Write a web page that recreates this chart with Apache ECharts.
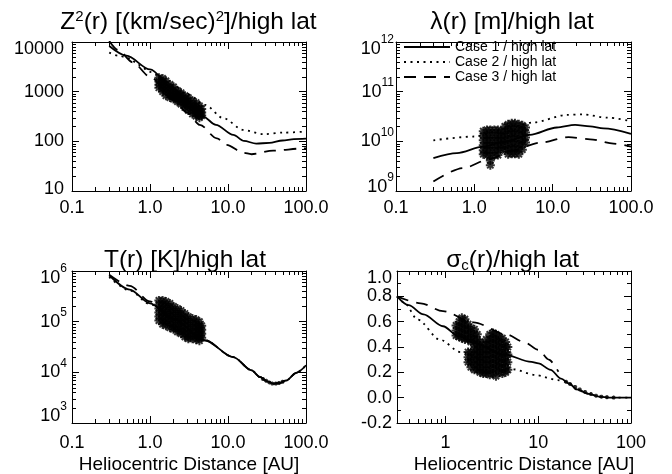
<!DOCTYPE html>
<html><head><meta charset="utf-8">
<script src="https://cdn.jsdelivr.net/npm/echarts@6/dist/echarts.min.js"></script>
<style>html,body{margin:0;padding:0;background:#fff}#c{width:672px;height:474px}</style>
</head><body><div id="c"></div>
<script>
// ---------------- data ----------------
const caseNames = ['Case 1 / high lat', 'Case 2 / high lat', 'Case 3 / high lat'];

// Panel 1: Z^2(r)
const z2Case1 = [[0.3,8300],[0.5,5300],[1.0,2800],[2.0,1150],[3.0,640],[4.8,314],[7,215],[11.7,135],[16,102],[23,90],[34,93],[50,104],[70,111],[100,113]];
const z2Case2 = [[0.3,6100],[0.39,5300],[0.55,4700],[0.71,3450],[1.0,2500],[2.0,1330],[3.0,890],[5.1,540],[8.7,292],[15.7,170],[28.5,139],[51.5,150],[100,157]];
const z2Case3 = [[0.3,10500],[0.39,6900],[0.6,3900],[1.0,2000],[2.0,690],[3.0,380],[4.36,214],[7.2,115],[9.6,85],[15.7,59],[20,55],[38,65],[92,72],[100,72]];
const z2ObsX = [1.3,1.45,1.6,1.8,2.0,2.25,2.5,2.8,3.1,3.5,3.9,4.3,4.6];
const z2ObsY = [
  [1900,1600,1380,1200],
  [1850,1580,1350,1150,1000],
  [1650,1400,1180,1000,830],
  [1400,1200,1020,870,760],
  [1250,1070,910,800,710],
  [1050,900,790,700,630],
  [950,830,720,630,560],
  [830,720,630,550,480],
  [760,660,560,480,420],
  [660,560,480,410,355],
  [600,510,440,370,320],
  [520,450,380,330,300],
  [450,380,330]
];

// Panel 2: lambda(r)
const lamCase1 = [[0.3,4.6e9],[0.6,5.8e9],[1.3,7.8e9],[2.5,1.0e10],[5.1,1.35e10],[11.3,1.9e10],[19.3,2.15e10],[30,2.0e10],[44.5,1.82e10],[100,1.42e10]];
const lamCase2 = [[0.3,1.05e10],[1.0,1.25e10],[2.5,1.77e10],[5.7,2.4e10],[15,3.4e10],[24,3.5e10],[50,3.0e10],[100,2.55e10]];
const lamCase3 = [[0.3,1.55e9],[0.72,2.9e9],[1.58,4.4e9],[3,6.5e9],[6.9,9.4e9],[15.9,1.22e10],[30,1.1e10],[60,9e9],[100,7.8e9]];
const lamObsX = [1.3,1.45,1.6,1.8,2.0,2.2,2.45,2.7,3.0,3.3,3.7,4.1,4.5];
const lamObsY = [
  [1.6e10,1.3e10,1.05e10,8.3e9,6.6e9,5.5e9],
  [1.7e10,1.32e10,1.05e10,8.3e9,6.6e9,5.2e9],
  [1.7e10,1.32e10,1.05e10,8.3e9,6.6e9,5.2e9,4.1e9,3.3e9],
  [1.7e10,1.32e10,1.05e10,8.3e9,6.6e9,5.2e9],
  [1.7e10,1.32e10,1.05e10,8.3e9,6.6e9,5.3e9],
  [1.6e10,1.3e10,1.05e10,8.5e9,7e9],
  [2.0e10,1.6e10,1.3e10,1.05e10,8.3e9,6.6e9],
  [2.2e10,1.75e10,1.4e10,1.1e10,8.7e9,6.9e9,5.5e9],
  [2.3e10,1.8e10,1.45e10,1.15e10,9e9,7.2e9,5.6e9],
  [2.3e10,1.8e10,1.45e10,1.15e10,9e9,7.2e9,5.6e9],
  [2.2e10,1.75e10,1.4e10,1.1e10,8.7e9,6.9e9,5.5e9],
  [2.1e10,1.7e10,1.35e10,1.05e10,8.5e9,6.8e9],
  [1.9e10,1.5e10,1.2e10,9.5e9]
];

// Panel 3: T(r)
const tCase1 = [[0.3,8.2e5],[0.55,4.3e5],[1.0,2.3e5],[2.0,1.12e5],[5,4.3e4],[11.7,2.0e4],[20,1.1e4],[25.6,8.1e3],[32,6.6e3],[38,6.0e3],[45,6.1e3],[56,6.9e3],[75,9.8e3],[100,1.38e4]];
const tCase2 = [[0.3,7.6e5],[0.55,4.1e5],[1.0,2.2e5],[2.0,1.1e5],[5,4.3e4],[11.7,2.0e4],[20,1.1e4],[25.6,8.1e3],[32,6.6e3],[38,6.0e3],[45,6.1e3],[56,6.9e3],[75,9.8e3],[100,1.38e4]];
const tCase3 = [[0.3,8.4e5],[0.55,5.1e5],[1.0,2.5e5],[2.0,1.16e5],[4,5.4e4],[5,4.35e4],[11.7,2.0e4],[20,1.1e4],[25.6,8.1e3],[32,6.6e3],[38,6.0e3],[45,6.1e3],[56,6.9e3],[75,9.8e3],[100,1.38e4]];
const tObsX = [1.3,1.45,1.6,1.8,2.0,2.25,2.5,2.8,3.1,3.5,3.9,4.3,4.6];
const tObsY = [
  [2.63e5,2.19e5,1.82e5,1.51e5,1.26e5,1.05e5],
  [2.63e5,2.19e5,1.82e5,1.51e5,1.26e5,1.05e5,8.9e4],
  [2.51e5,2.09e5,1.74e5,1.45e5,1.2e5,1.0e5,8.3e4],
  [2.29e5,1.91e5,1.58e5,1.32e5,1.1e5,9.1e4,7.6e4],
  [2.0e5,1.66e5,1.38e5,1.15e5,9.5e4,7.9e4,7.1e4],
  [1.82e5,1.51e5,1.26e5,1.05e5,8.7e4,7.2e4,6.3e4],
  [1.66e5,1.38e5,1.15e5,9.5e4,7.9e4,6.6e4,5.8e4],
  [1.45e5,1.2e5,1.0e5,8.3e4,6.9e4,5.8e4,5.0e4],
  [1.26e5,1.05e5,8.7e4,7.2e4,6.0e4,5.0e4,4.6e4],
  [1.15e5,9.5e4,7.9e4,6.6e4,5.5e4,4.6e4],
  [1.1e5,9.1e4,7.6e4,6.3e4,5.2e4,4.4e4],
  [1.0e5,8.3e4,6.9e4,5.8e4,4.8e4,4.2e4],
  [8.3e4,6.9e4,5.8e4,4.8e4]
];
const tObsTail = [[28,7400],[31,6800],[34,6300],[37,6000],[41,6000],[45,6150],[50,6500]];

// Panel 4: sigma_c(r)
const sigCase1 = [[0.3,0.80],[0.4,0.73],[0.58,0.657],[0.94,0.564],[1.39,0.484],[2.04,0.43],[4.15,0.344],[8.46,0.282],[10.06,0.27],[13.6,0.22],[17.6,0.15],[21.8,0.11],[26,0.065],[35,0.03],[45,0.008],[60,0.0],[100,0.0]];
const sigCase2 = [[0.3,0.80],[0.36,0.75],[0.5,0.617],[0.87,0.458],[1.45,0.36],[3.0,0.284],[5.35,0.224],[9.3,0.179],[16.2,0.139],[19.8,0.125],[21.8,0.11],[26,0.065],[35,0.03],[45,0.008],[60,0.0],[100,0.0]];
const sigCase3 = [[0.3,0.80],[0.54,0.745],[0.94,0.683],[2.0,0.595],[4.57,0.498],[7.0,0.44],[10.06,0.378],[13,0.30],[16.5,0.205]];
const sigObsX = [1.3,1.4,1.5,1.62,1.75,1.88,2.05,2.2,2.35,2.55,2.75,3.0,3.25,3.5,3.8,4.1,4.45,4.7];
const sigObsY = [
  [0.57,0.53,0.49],
  [0.60,0.56,0.52,0.48],
  [0.63,0.59,0.55,0.51,0.47],
  [0.62,0.58,0.54,0.50,0.46],
  [0.58,0.54,0.50,0.46,0.36,0.32,0.28],
  [0.55,0.51,0.47,0.44,0.36,0.32,0.28,0.24],
  [0.54,0.50,0.46,0.42,0.38,0.34,0.30,0.26,0.22],
  [0.50,0.46,0.42,0.38,0.34,0.30,0.26,0.22],
  [0.44,0.40,0.36,0.32,0.28,0.24,0.20],
  [0.42,0.38,0.34,0.30,0.26,0.22,0.19],
  [0.46,0.42,0.38,0.34,0.30,0.26,0.22,0.19],
  [0.50,0.46,0.42,0.38,0.34,0.30,0.26,0.22,0.18],
  [0.51,0.47,0.43,0.39,0.35,0.31,0.27,0.23,0.19],
  [0.50,0.46,0.42,0.38,0.34,0.30,0.26,0.22,0.17],
  [0.48,0.44,0.40,0.36,0.32,0.28,0.24,0.20],
  [0.47,0.43,0.39,0.35,0.31,0.27,0.23,0.19],
  [0.44,0.40,0.36,0.32,0.28,0.24,0.20],
  [0.40,0.34,0.28,0.22]
];
const sigObsTail = [[20,0.125],[22,0.108],[25,0.085],[28,0.065],[32,0.045],[37,0.028],[42,0.016],[48,0.008],[55,0.004],[65,0.001]];

// tick labels
const xTickVals = [0.1, 1, 10, 100];
const xTickText = ['0.1', '1.0', '10.0', '100.0'];
const sigXTickVals = [1, 10, 100];
const sigXTickText = ['1', '10', '100'];
const z2YTickVals = [10, 100, 1000, 10000];
const z2YTickText = ['10', '100', '1000', '10000'];
const lamYTickVals = [1e9, 1e10, 1e11, 1e12];
const lamYTickExp = ['9', '10', '11', '12'];
const tYTickVals = [1e3, 1e4, 1e5, 1e6];
const tYTickExp = ['3', '4', '5', '6'];
const minorMults = [2, 3, 4, 5, 6, 7, 8, 9];

// ---------------- helpers ----------------
const FONT = 'Liberation Sans';
const pairs = (xs, ys) => { const out = []; xs.forEach((x, i) => ys[i].forEach(y => out.push([x, y]))); return out; };
const findIdx = (vals, v) => vals.findIndex(t => Math.abs(Math.log10(t) - Math.log10(v)) < 1e-6);
const minorOf = (decades, lo, hi) => { const o = []; decades.forEach(d => minorMults.forEach(m => { const v = d * m; if (v > lo * 1.0001 && v < hi * 0.9999) o.push(v); })); return o; };

const grids = [
  {left: 72, top: 42, width: 234, height: 149},
  {left: 396, top: 42, width: 235, height: 149},
  {left: 72, top: 271, width: 234, height: 152},
  {left: 397, top: 271, width: 234, height: 152}
];

const axisLine = {show: true, onZero: false, lineStyle: {color: '#000', width: 1}};
const majorTick = {show: true, inside: true, length: 7, lineStyle: {color: '#000', width: 1}};
const yRich = {
  v: {fontSize: 18, lineHeight: 18, fontFamily: FONT, color: '#000'},
  b: {fontSize: 18, lineHeight: 30, fontFamily: FONT, color: '#000'},
  e: {fontSize: 12, lineHeight: 12, verticalAlign: 'top', fontFamily: FONT, color: '#000'},
  pad: {fontSize: 10, lineHeight: 14},
  pad4: {fontSize: 4, lineHeight: 4},
  pad8: {fontSize: 8, lineHeight: 8},
  pad14: {fontSize: 10, lineHeight: 14}
};

function xPair(g, type, min, max, fmt, margin, extra) {
  const base = {gridIndex: g, type, min, max, splitLine: {show: false}, axisLine, axisTick: majorTick};
  if (type === 'log') base.logBase = 10;
  const bottom = Object.assign({}, base, {position: 'bottom',
    axisLabel: {show: true, formatter: fmt, margin, color: '#000', fontSize: 18, fontFamily: FONT, showMinLabel: true, showMaxLabel: true}}, extra || {});
  const top = Object.assign({}, base, {position: 'top', axisLabel: {show: false}});
  return [bottom, top];
}
function yPair(g, type, min, max, fmt, margin, extra) {
  const base = {gridIndex: g, type, min, max, splitLine: {show: false}, axisLine, axisTick: majorTick};
  if (type === 'log') base.logBase = 10;
  Object.assign(base, extra || {});
  const left = Object.assign({}, base, {position: 'left',
    axisLabel: {show: true, formatter: fmt, margin, rich: yRich, showMinLabel: true, showMaxLabel: true}});
  const right = Object.assign({}, base, {position: 'right', axisLabel: {show: false}});
  return [left, right];
}
const fmtX = v => { const i = findIdx(xTickVals, v); return i >= 0 ? xTickText[i] : ''; };
const fmtSigX = v => { const i = findIdx(sigXTickVals, v); return i >= 0 ? sigXTickText[i] : ''; };
function fmtLogPlain(vals, texts, padBottom) {
  return v => { const i = findIdx(vals, v); if (i < 0) return '';
    const s = '{v|' + texts[i] + '}';
    if (i === vals.length - 1) return '{pad| }\n' + s;
    if (i === 0 && padBottom) return s + '\n{' + padBottom + '| }';
    return s; };
}
function fmtLogExp(vals, exps, padBottom) {
  return v => { const i = findIdx(vals, v); if (i < 0) return '';
    const s = '{b|10}{e|' + exps[i] + '}';
    if (i === vals.length - 1) return '{pad| }\n' + s;
    if (i === 0 && padBottom) return s + '\n{' + padBottom + '| }';
    return s; };
}
const fmtSigY = v => { const s = '{v|' + v.toFixed(1) + '}'; return Math.abs(v - 1) < 1e-9 ? '{pad| }\n' + s : s; };

function lineS(g, name, data, type) {
  return {type: 'line', name, xAxisIndex: 2 * g, yAxisIndex: 2 * g, data, showSymbol: false, symbol: 'none',
    smooth: 0.3, smoothMonotone: 'x', clip: true, z: 2, silent: true,
    lineStyle: {color: '#000', width: 1.8, type}, itemStyle: {color: '#000'}};
}
const STAR = 'path://M5,0L5,10M0,5L10,5M1.5,1.5L8.5,8.5M1.5,8.5L8.5,1.5';
function obsS(g, data, size, bw) {
  return {type: 'scatter', name: 'obs' + g, xAxisIndex: 2 * g, yAxisIndex: 2 * g, data, symbol: STAR,
    symbolSize: size, z: 3, silent: true, clip: true,
    itemStyle: {color: '#000', borderColor: '#000', borderWidth: bw}};
}
function minorS(g, axis, values, other) {
  return {type: 'custom', name: 'minor' + g + axis, xAxisIndex: 2 * g, yAxisIndex: 2 * g, silent: true, clip: false, z: 5,
    data: values.map(v => axis === 'x' ? [v, other] : [other, v]),
    renderItem: (params, api) => {
      const cs = params.coordSys; const p = api.coord([api.value(0), api.value(1)]); const L = 4;
      const st = {stroke: '#000', lineWidth: 1};
      if (axis === 'x') { const x = Math.round(p[0]) + 0.5;
        return {type: 'group', children: [
          {type: 'line', shape: {x1: x, y1: cs.y + cs.height, x2: x, y2: cs.y + cs.height - L}, style: st},
          {type: 'line', shape: {x1: x, y1: cs.y, x2: x, y2: cs.y + L}, style: st}]};
      }
      const y = Math.round(p[1]) + 0.5;
      return {type: 'group', children: [
        {type: 'line', shape: {x1: cs.x, y1: y, x2: cs.x + L, y2: y}, style: st},
        {type: 'line', shape: {x1: cs.x + cs.width, y1: y, x2: cs.x + cs.width - L, y2: y}, style: st}]};
    }};
}

const nameStyle = {fontSize: 19, fontFamily: FONT, color: '#000'};
const xAxis = [].concat(
  xPair(0, 'log', 0.1, 100, fmtX, 8),
  xPair(1, 'log', 0.1, 100, fmtX, 8),
  xPair(2, 'log', 0.1, 100, fmtX, 11, {name: 'Heliocentric Distance [AU]', nameLocation: 'middle', nameGap: 32, nameTextStyle: nameStyle}),
  xPair(3, 'log', 0.3, 100, fmtSigX, 11, {name: 'Heliocentric Distance [AU]', nameLocation: 'middle', nameGap: 32, nameTextStyle: Object.assign({padding: [0, 0, 0, 20]}, nameStyle)})
);
const yAxis = [].concat(
  yPair(0, 'log', 10, 10000, fmtLogPlain(z2YTickVals, z2YTickText, 'pad4'), 8),
  yPair(1, 'log', 1e9, 1e12, fmtLogExp(lamYTickVals, lamYTickExp, 'pad8'), 2),
  yPair(2, 'log', 1e3, 1e6, fmtLogExp(tYTickVals, tYTickExp, 'pad14'), 5),
  yPair(3, 'value', -0.2, 1.0, fmtSigY, 5, {interval: 0.2, minorTick: {show: true, splitNumber: 2, length: 4, lineStyle: {color: '#000', width: 1}}})
);

const TFS = 24.5;
const titleRich = {
  t: {fontSize: TFS, lineHeight: 26, fontFamily: FONT, color: '#000'},
  s: {fontSize: 15, lineHeight: 15, verticalAlign: 'top', fontFamily: FONT, color: '#000'},
  sub: {fontSize: 15, lineHeight: 15, verticalAlign: 'bottom', fontFamily: FONT, color: '#000'}
};
function titleAt(text, cx, cy) {
  return {text, left: cx, top: cy, padding: 0, textAlign: 'center', textVerticalAlign: 'middle',
    textStyle: {fontSize: TFS, fontWeight: 'normal', fontFamily: FONT, color: '#000', rich: titleRich}};
}

const series = [
  lineS(0, caseNames[0], z2Case1, 'solid'), lineS(0, caseNames[1], z2Case2, [2, 4.5]), lineS(0, caseNames[2], z2Case3, [12, 8]),
  obsS(0, pairs(z2ObsX, z2ObsY), 9, 2),
  lineS(1, caseNames[0], lamCase1, 'solid'), lineS(1, caseNames[1], lamCase2, [2, 4.5]), lineS(1, caseNames[2], lamCase3, [12, 8]),
  obsS(1, pairs(lamObsX, lamObsY), 9, 2),
  lineS(2, caseNames[0], tCase1, 'solid'), lineS(2, caseNames[1], tCase2, [2, 4.5]), lineS(2, caseNames[2], tCase3, [12, 8]),
  obsS(2, pairs(tObsX, tObsY), 9, 2), obsS(2, tObsTail, 4, 1.3),
  lineS(3, caseNames[0], sigCase1, 'solid'), lineS(3, caseNames[1], sigCase2, [2, 4.5]), lineS(3, caseNames[2], sigCase3, [12, 8]),
  obsS(3, pairs(sigObsX, sigObsY), 9, 2), obsS(3, sigObsTail, 4, 1.3),
  minorS(0, 'x', minorOf([0.1, 1, 10], 0.1, 100), 10), minorS(0, 'y', minorOf([10, 100, 1000], 10, 10000), 0.1),
  minorS(1, 'x', minorOf([0.1, 1, 10], 0.1, 100), 1e9), minorS(1, 'y', minorOf([1e9, 1e10, 1e11], 1e9, 1e12), 0.1),
  minorS(2, 'x', minorOf([0.1, 1, 10], 0.1, 100), 1e3), minorS(2, 'y', minorOf([1e3, 1e4, 1e5], 1e3, 1e6), 0.1),
  minorS(3, 'x', minorOf([0.1, 1, 10], 0.3, 100), 0)
];

const chart = echarts.init(document.getElementById('c'), null, {renderer: 'canvas'});
chart.setOption({
  backgroundColor: '#fff',
  animation: false,
  textStyle: {fontFamily: FONT, color: '#000'},
  title: [
    titleAt('{t|Z}{s|2}{t|(r) [(km/sec)}{s|2}{t|]/high lat}', 188.5, 22.5),
    titleAt('{t|λ(r) [m]/high lat}', 512, 22.5),
    titleAt('{t|T(r) [K]/high lat}', 185, 260),
    titleAt('{t|σ}{sub|c}{t|(r)/high lat}', 512.7, 260.5)
  ],
  legend: {data: caseNames, orient: 'vertical', left: 403, top: 40, padding: 0, itemWidth: 46, itemHeight: 14, itemGap: 1,
    itemStyle: {opacity: 0}, textStyle: {fontSize: 14, fontFamily: FONT, color: '#000'}, selectedMode: false},
  grid: grids.map(g => Object.assign({containLabel: false, outerBoundsMode: 'none'}, g)),
  xAxis, yAxis, series
});
</script>
</body></html>
